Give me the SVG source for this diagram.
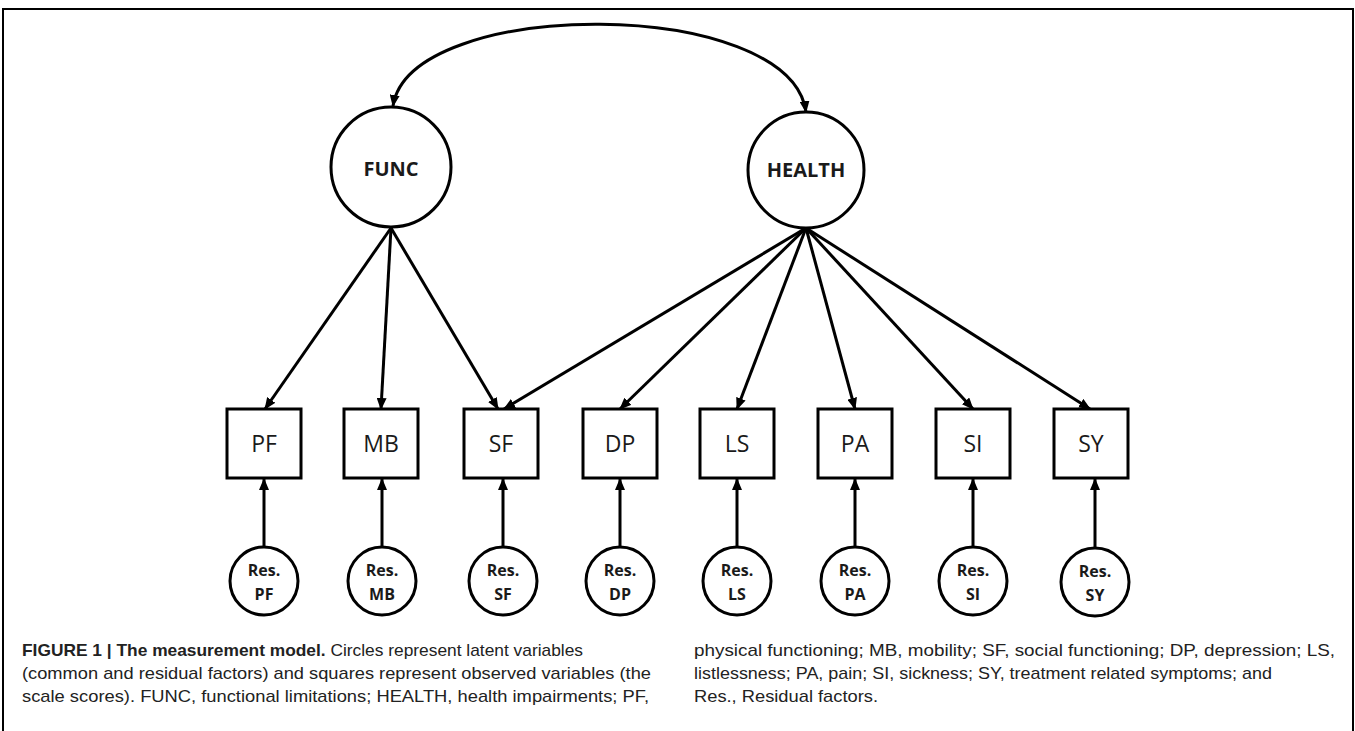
<svg xmlns="http://www.w3.org/2000/svg" width="1355" height="731" viewBox="0 0 1355 731">
<style>
.shape{fill:#fff;stroke:#000;stroke-width:3}
.lat{font-family:"Open Sans","DejaVu Sans",sans-serif;font-weight:bold;font-size:20px;text-anchor:middle;fill:#1a1a1a}
.obs{font-family:"Open Sans","DejaVu Sans",sans-serif;font-size:23px;text-anchor:middle;fill:#1a1a1a}
.res{font-family:"Open Sans","DejaVu Sans",sans-serif;font-weight:bold;font-size:16px;text-anchor:middle;fill:#1a1a1a}
.edge{fill:none;stroke:#000;stroke-width:3}
.cap{font-family:"Liberation Sans",Arial,sans-serif;font-size:17px;fill:#222}
.b{font-weight:bold}
</style>
<defs>
<marker id="ah" markerUnits="userSpaceOnUse" markerWidth="12" markerHeight="10" refX="11" refY="5" orient="auto">
<path d="M0,0 L12,5 L0,10 Z" fill="#000"/>
</marker>
<marker id="ahs" markerUnits="userSpaceOnUse" markerWidth="12" markerHeight="10" refX="11" refY="5" orient="auto-start-reverse">
<path d="M0,0 L12,5 L0,10 Z" fill="#000"/>
</marker>
</defs>
<rect x="0" y="0" width="1355" height="731" fill="#fff"/>
<path d="M3,731 V9 H1353 V731" fill="none" stroke="#000" stroke-width="2"/>

<g id="connectors">
<path class="edge" d="M393,106 C410,-4 790,-4 806,112" marker-start="url(#ahs)" marker-end="url(#ah)"/>
<line class="edge" x1="391" y1="228" x2="265" y2="409" marker-end="url(#ah)"/>
<line class="edge" x1="391" y1="228" x2="381" y2="409" marker-end="url(#ah)"/>
<line class="edge" x1="391" y1="228" x2="498" y2="409" marker-end="url(#ah)"/>
<line class="edge" x1="806" y1="228" x2="504" y2="409" marker-end="url(#ah)"/>
<line class="edge" x1="806" y1="228" x2="620" y2="409" marker-end="url(#ah)"/>
<line class="edge" x1="806" y1="228" x2="737" y2="409" marker-end="url(#ah)"/>
<line class="edge" x1="806" y1="228" x2="855" y2="409" marker-end="url(#ah)"/>
<line class="edge" x1="806" y1="228" x2="973" y2="409" marker-end="url(#ah)"/>
<line class="edge" x1="806" y1="228" x2="1090" y2="409" marker-end="url(#ah)"/>
<line class="edge" x1="264" y1="547" x2="264" y2="479" marker-end="url(#ah)"/>
<line class="edge" x1="382" y1="547" x2="382" y2="479" marker-end="url(#ah)"/>
<line class="edge" x1="503" y1="547" x2="503" y2="479" marker-end="url(#ah)"/>
<line class="edge" x1="620" y1="547" x2="620" y2="479" marker-end="url(#ah)"/>
<line class="edge" x1="737" y1="547" x2="737" y2="479" marker-end="url(#ah)"/>
<line class="edge" x1="855" y1="547" x2="855" y2="479" marker-end="url(#ah)"/>
<line class="edge" x1="973" y1="547" x2="973" y2="479" marker-end="url(#ah)"/>
<line class="edge" x1="1095" y1="547" x2="1095" y2="479" marker-end="url(#ah)"/>
</g>

<g id="FUNC"><circle class="shape" cx="391" cy="167" r="60"/><text class="lat" x="391" y="176">FUNC</text></g>
<g id="HEALTH"><circle class="shape" cx="806" cy="170" r="58"/><text class="lat" x="806" y="177">HEALTH</text></g>

<g id="PF"><rect class="shape" x="227" y="409" width="74" height="69"/><text class="obs" x="264" y="452">PF</text></g>
<g id="MB"><rect class="shape" x="344" y="409" width="74" height="69"/><text class="obs" x="381" y="452">MB</text></g>
<g id="SF"><rect class="shape" x="464" y="409" width="74" height="69"/><text class="obs" x="501" y="452">SF</text></g>
<g id="DP"><rect class="shape" x="583" y="409" width="74" height="69"/><text class="obs" x="620" y="452">DP</text></g>
<g id="LS"><rect class="shape" x="700" y="409" width="74" height="69"/><text class="obs" x="737" y="452">LS</text></g>
<g id="PA"><rect class="shape" x="818" y="409" width="74" height="69"/><text class="obs" x="855" y="452">PA</text></g>
<g id="SI"><rect class="shape" x="936" y="409" width="74" height="69"/><text class="obs" x="973" y="452">SI</text></g>
<g id="SY"><rect class="shape" x="1054" y="409" width="74" height="69"/><text class="obs" x="1091" y="452">SY</text></g>

<g id="ResPF"><circle class="shape" cx="264" cy="581" r="34"/><text class="res" x="264" y="576">Res.</text><text class="res" x="264" y="600">PF</text></g>
<g id="ResMB"><circle class="shape" cx="382" cy="581" r="34"/><text class="res" x="382" y="576">Res.</text><text class="res" x="382" y="600">MB</text></g>
<g id="ResSF"><circle class="shape" cx="503" cy="581" r="34"/><text class="res" x="503" y="576">Res.</text><text class="res" x="503" y="600">SF</text></g>
<g id="ResDP"><circle class="shape" cx="620" cy="581" r="34"/><text class="res" x="620" y="576">Res.</text><text class="res" x="620" y="600">DP</text></g>
<g id="ResLS"><circle class="shape" cx="737" cy="581" r="34"/><text class="res" x="737" y="576">Res.</text><text class="res" x="737" y="600">LS</text></g>
<g id="ResPA"><circle class="shape" cx="855" cy="581" r="34"/><text class="res" x="855" y="576">Res.</text><text class="res" x="855" y="600">PA</text></g>
<g id="ResSI"><circle class="shape" cx="973" cy="581" r="34"/><text class="res" x="973" y="576">Res.</text><text class="res" x="973" y="600">SI</text></g>
<g id="ResSY"><circle class="shape" cx="1095" cy="582" r="34"/><text class="res" x="1095" y="577">Res.</text><text class="res" x="1095" y="601">SY</text></g>

<g id="caption">
<text class="cap" x="22" y="656" textLength="561" lengthAdjust="spacingAndGlyphs"><tspan class="b">FIGURE 1 | The measurement model.</tspan> Circles represent latent variables</text>
<text class="cap" x="22" y="679" textLength="629" lengthAdjust="spacingAndGlyphs">(common and residual factors) and squares represent observed variables (the</text>
<text class="cap" x="22" y="702" textLength="627" lengthAdjust="spacingAndGlyphs">scale scores). FUNC, functional limitations; HEALTH, health impairments; PF,</text>
<text class="cap" x="694" y="656" textLength="641" lengthAdjust="spacingAndGlyphs">physical functioning; MB, mobility; SF, social functioning; DP, depression; LS,</text>
<text class="cap" x="694" y="679" textLength="578" lengthAdjust="spacingAndGlyphs">listlessness; PA, pain; SI, sickness; SY, treatment related symptoms; and</text>
<text class="cap" x="694" y="702" textLength="184" lengthAdjust="spacingAndGlyphs">Res., Residual factors.</text>
</g>
</svg>
